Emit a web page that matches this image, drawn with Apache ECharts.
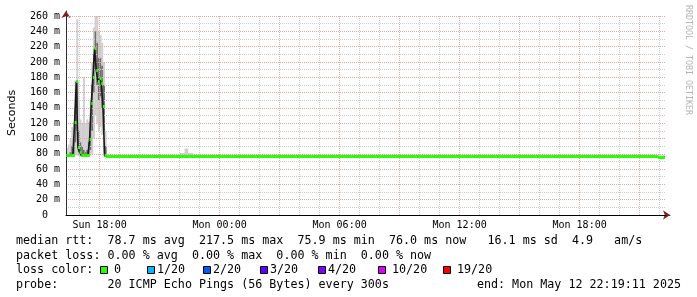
<!DOCTYPE html>
<html><head><meta charset="utf-8">
<script src="https://cdn.jsdelivr.net/npm/echarts@6/dist/echarts.min.js"></script>
<style>html,body{margin:0;padding:0;background:#fff}#c{width:697px;height:297px}</style>
</head><body><div id="c"></div>
<script>
// Time unit: minutes since Sun 00:00
const graphStart = 979.18;   // Sun 16:19:11
const graphEnd = 2779.18;    // Mon 22:19:11

// x axis ticks
const xLabelValues = [1080, 1440, 1800, 2160, 2520];
const xLabelTexts = ['Sun 18:00', 'Mon 00:00', 'Mon 06:00', 'Mon 12:00', 'Mon 18:00'];
const xMajorTicks = [1080, 1260, 1440, 1620, 1800, 1980, 2160, 2340, 2520, 2700];
const xMinorTicks = [1020, 1140, 1200, 1320, 1380, 1500, 1560, 1680, 1740, 1860, 1920,
                     2040, 2100, 2220, 2280, 2400, 2460, 2580, 2640, 2760];

// spike period, 5-minute steps starting Sun 16:20 (ms)
const spikeStart = 980;
const spikeMedian = [78, 78, 78, 78, 78, 121, 174, 88, 82, 78, 78, 78, 78, 78, 99, 146, 180, 217, 189, 174, 178, 172, 142, 77.5, 76];
const spikeMin    = [76, 76, 76, 76, 76, 78, 78, 77, 76, 76, 76, 76, 76, 76, 77, 80, 100, 130, 120, 110, 115, 105, 80, 76, 76];
const spikeLow    = [77, 77, 77, 78, 80, 95, 110, 82, 79, 78, 78, 77, 77, 78, 85, 110, 160, 190, 170, 150, 155, 140, 110, 78, 76];
const spikeHigh   = [79, 80, 82, 90, 100, 140, 175, 110, 95, 90, 85, 82, 85, 95, 120, 170, 210, 240, 225, 205, 205, 195, 170, 90, 78];
const spikeMax    = [88, 92, 100, 115, 122, 176, 256, 150, 125, 120, 180, 120, 125, 122, 150, 200, 245, 260, 260, 240, 235, 225, 200, 110, 80];

// quiet period: runs (each value holds until the next time)
const flatMedTimes = [1105, 1170, 1250, 1500, 2200, 2755, 2775];
const flatMedian   = [76.5, 76.2, 76.2, 76.0, 76.0, 75.6];
const flatSmokeTimes = [1105, 1320, 1335, 1345, 1360, 2775];
const flatSmokeMin   = [75.5, 75.5, 75.5, 75.5, 75.5];
const flatSmokeMax   = [78, 81, 87, 81, 78];

// legend texts
const legendLine1 = 'median rtt:  78.7 ms avg  217.5 ms max  75.9 ms min  76.0 ms now   16.1 ms sd  4.9   am/s';
const legendLine2 = 'packet loss: 0.00 % avg  0.00 % max  0.00 % min  0.00 % now';
const lossLabels = ['0', '1/20', '2/20', '3/20', '4/20', '10/20', '19/20'];
const lossColors = ['#26ff00', '#00b8ff', '#0059ff', '#5e00ff', '#7e00ff', '#dd00ff', '#ff0000'];
const probeText = 'probe:       20 ICMP Echo Pings (56 Bytes) every 300s';
const endText = 'end: Mon May 12 22:19:11 2025';

// ---- build series data ----
const medRuns = [];
spikeMedian.forEach((v, i) => medRuns.push([spikeStart + i * 5, spikeStart + (i + 1) * 5, v]));
for (let i = 0; i < flatMedian.length; i++) medRuns.push([flatMedTimes[i], flatMedTimes[i + 1], flatMedian[i]]);
const smokeRuns = [];
spikeMedian.forEach((v, i) => smokeRuns.push([spikeStart + i * 5, spikeStart + (i + 1) * 5, spikeMin[i], spikeLow[i], spikeHigh[i], spikeMax[i]]));
for (let i = 0; i < flatSmokeMin.length; i++) smokeRuns.push([flatSmokeTimes[i], flatSmokeTimes[i + 1], flatSmokeMin[i], flatSmokeMin[i], flatSmokeMin[i], flatSmokeMax[i]]);
const stepPts = medRuns.map(r => [r[0], r[2]]);
stepPts.push([medRuns[medRuns.length - 1][1], medRuns[medRuns.length - 1][2]]);

const MONO = '"DejaVu Sans Mono"';
const chart = echarts.init(document.getElementById('c'), null, {renderer: 'canvas'});

const graphics = [];
function txt(x, y, text, opts) {
  opts = opts || {};
  graphics.push({
    type: 'text', x: x, y: y, rotation: opts.rotation || 0, silent: true,
    style: {
      text: text, font: opts.font || ('11.7px ' + MONO), fill: opts.fill || '#000',
      align: opts.align || 'left', verticalAlign: 'middle',
      textAlign: opts.align || 'left', textVerticalAlign: 'middle'
    }
  });
}
txt(16, 241, legendLine1);
txt(16, 255.5, legendLine2);
txt(16, 270, 'loss color:');
const boxX = [100.5, 147.5, 203.5, 260.5, 318.5, 378.5, 443.5];
const labX = [114, 157, 213, 270, 328, 392, 457];
lossLabels.forEach((l, i) => {
  graphics.push({type: 'rect', silent: true, shape: {x: boxX[i], y: 266.5, width: 7, height: 7},
    style: {fill: lossColors[i], stroke: '#000', lineWidth: 1}});
  txt(labX[i], 270, l);
});
txt(16, 284.5, probeText);
txt(681, 284.5, endText, {align: 'right'});
txt(12, 113, 'Seconds', {rotation: Math.PI / 2, align: 'center', font: '11px "DejaVu Sans"'});
txt(688, 60, 'RRDTOOL / TOBI OETIKER', {rotation: -Math.PI / 2, align: 'center', font: '8.3px ' + MONO, fill: '#b4b4b4'});

const dotted = (c) => ({show: true, lineStyle: {color: c, width: 1, type: [1, 1]}});

chart.setOption({
  backgroundColor: '#ffffff',
  animation: false,
  grid: [
    {left: 66, right: 31, top: 16, bottom: 82},
    {left: 66, width: 1, top: 11, height: 5},
    {left: 666, width: 4, bottom: 82, height: 1}
  ],
  xAxis: [
    {type: 'value', gridIndex: 0, min: graphStart, max: graphEnd, z: 1,
      axisLine: {show: true, onZero: false, lineStyle: {color: '#000', width: 1}},
      axisTick: {show: false, customValues: xMajorTicks},
      axisLabel: {customValues: xLabelValues, margin: 5, fontFamily: 'DejaVu Sans Mono', fontSize: 10, color: '#000',
        formatter: v => { const i = xLabelValues.indexOf(v); return i >= 0 ? xLabelTexts[i] : ''; }},
      splitLine: dotted('#e6a6a6')},
    {type: 'value', gridIndex: 0, min: graphStart, max: graphEnd, z: 1, position: 'bottom',
      axisLine: {show: false}, axisTick: {show: false, customValues: xMinorTicks},
      axisLabel: {show: false}, splitLine: dotted('#cdcdcd')},
    {type: 'value', gridIndex: 1, min: 0, max: 1, show: false},
    {type: 'value', gridIndex: 2, min: 0, max: 1, axisLabel: {show: false}, axisTick: {show: false}, splitLine: {show: false},
      axisLine: {show: true, onZero: false, symbol: ['none', 'arrow'], symbolSize: [7, 7], lineStyle: {color: '#802020'}}}
  ],
  yAxis: [
    {type: 'value', gridIndex: 0, min: 0, max: 260, interval: 20, z: 1,
      axisLine: {show: true, onZero: false, lineStyle: {color: '#303030', width: 1}},
      axisTick: {show: false},
      axisLabel: {margin: 6, fontFamily: 'DejaVu Sans Mono', fontSize: 10, color: '#000',
        formatter: v => v === 0 ? '0  ' : v + ' m'},
      splitLine: dotted('#e6a6a6'),
      minorTick: {show: false, splitNumber: 2},
      minorSplitLine: dotted('#cdcdcd')},
    {type: 'value', gridIndex: 1, min: 0, max: 1, axisLabel: {show: false}, axisTick: {show: false}, splitLine: {show: false},
      axisLine: {show: true, onZero: false, symbol: ['none', 'arrow'], symbolSize: [7, 7], lineStyle: {color: '#802020'}}},
    {type: 'value', gridIndex: 2, min: 0, max: 1, show: false}
  ],
  series: [
    {type: 'custom', name: 'smoke', xAxisIndex: 0, yAxisIndex: 0, z: 0, clip: true, silent: true,
      data: smokeRuns, encode: {x: [0, 1], y: [2, 3, 4, 5]},
      renderItem: (params, api) => {
        const a = api.coord([api.value(0), api.value(2)]);
        const b = api.coord([api.value(1), api.value(5)]);
        const c = api.coord([api.value(0), api.value(3)]);
        const d = api.coord([api.value(1), api.value(4)]);
        return {type: 'group', children: [
          {type: 'rect', shape: {x: a[0], y: b[1], width: b[0] - a[0] + 0.3, height: a[1] - b[1]}, style: {fill: '#cfcfcf'}},
          {type: 'rect', shape: {x: c[0], y: d[1], width: d[0] - c[0] + 0.3, height: c[1] - d[1]}, style: {fill: '#6e6e6e'}}
        ]};
      }},
    {type: 'line', name: 'median-step', xAxisIndex: 0, yAxisIndex: 0, z: 3, step: 'end', symbol: 'none', silent: true,
      data: stepPts, lineStyle: {color: '#1a1a1a', width: 1.6}},
    {type: 'custom', name: 'median', xAxisIndex: 0, yAxisIndex: 0, z: 4, clip: true, silent: true,
      data: medRuns, encode: {x: [0, 1], y: [2]},
      renderItem: (params, api) => {
        const a = api.coord([api.value(0), api.value(2)]);
        const b = api.coord([api.value(1), api.value(2)]);
        const top = Math.round(a[1] - 1.5);
        return {type: 'rect', shape: {x: a[0], y: top, width: b[0] - a[0] + 0.2, height: 3}, style: {fill: lossColors[0]}};
      }}
  ],
  graphic: graphics
});
</script>
</body></html>
